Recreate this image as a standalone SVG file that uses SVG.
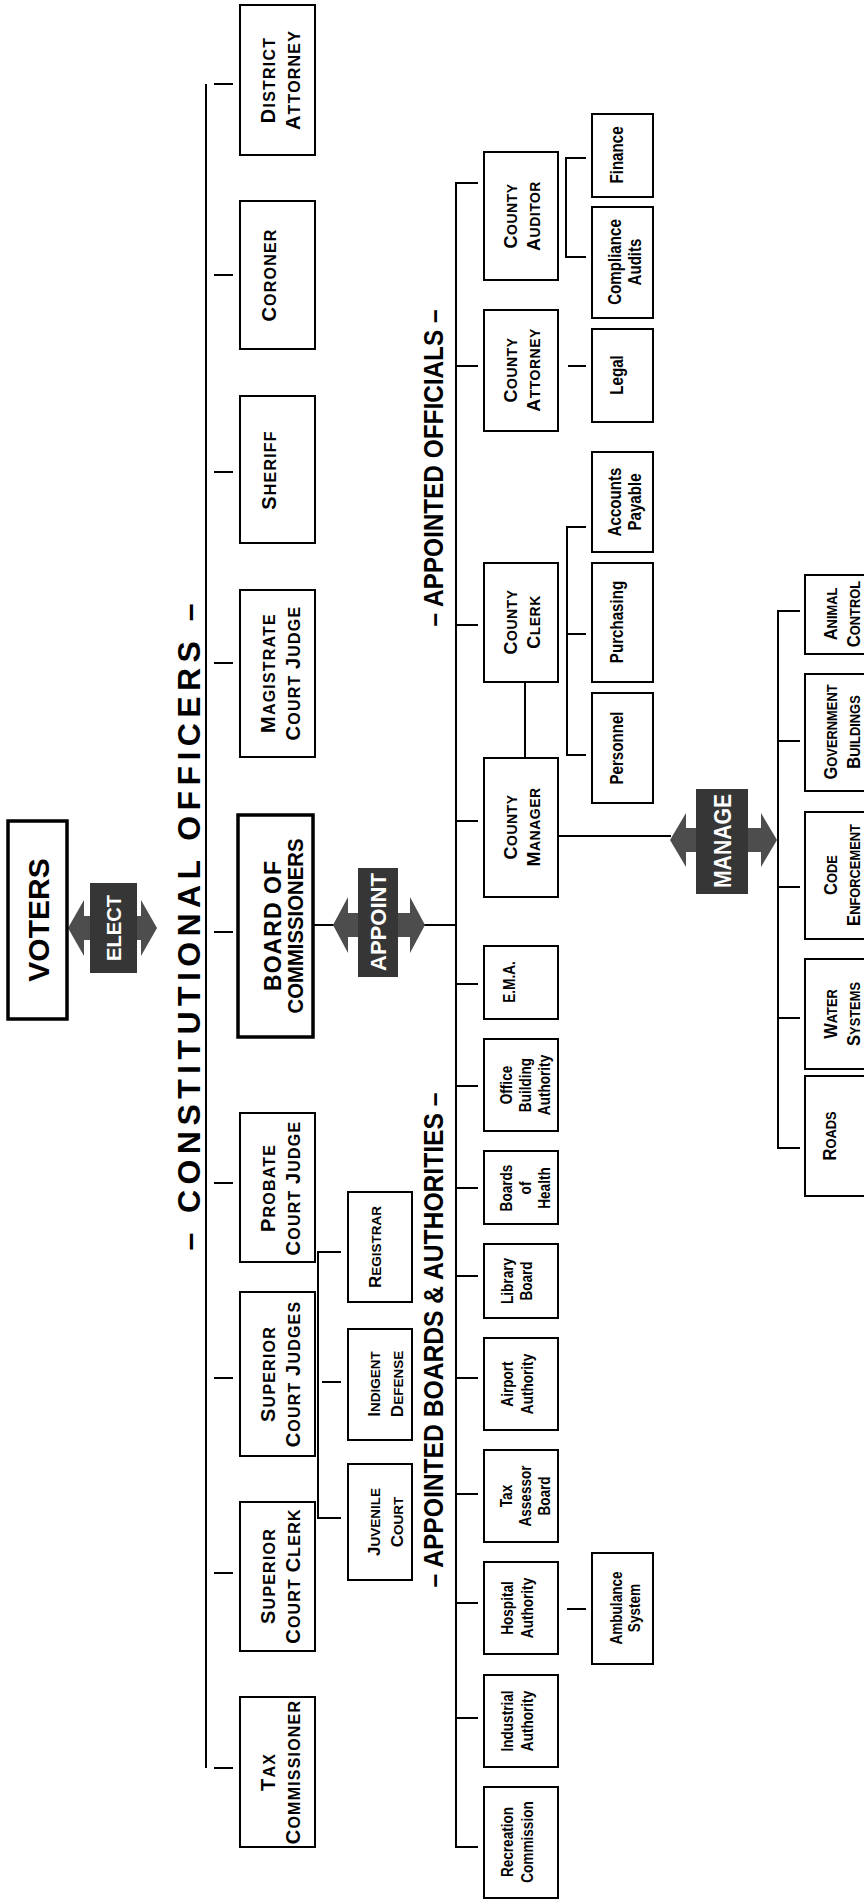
<svg xmlns="http://www.w3.org/2000/svg" width="864" height="1902" viewBox="0 0 864 1902">
<style>
.bx{fill:#fff;stroke:#000;stroke-width:2}
.bt{fill:#fff;stroke:#000;stroke-width:3.5}
.ln{fill:none;stroke:#000;stroke-width:2}
text{font-family:"Liberation Sans",Arial,Helvetica,sans-serif;font-weight:bold;fill:#000;text-anchor:middle}
.c1{font-size:16px;letter-spacing:1.2px}
.c1 .B{font-size:20px}
.c2{font-size:14px;letter-spacing:0.5px}
.c2 .B{font-size:18px}
.c3{font-size:13.5px}
.c3 .B{font-size:17px}
.c4{font-size:14px}
.c4 .B{font-size:18px}
.lb{font-size:17px}
.lc{font-size:18px}
.ttl{font-size:28px}
.big{font-size:32px}
.lab{fill:#fff}
.arw{fill:#4d4d4d}
.tag{fill:#363636}
</style>
<rect width="864" height="1902" fill="#fff"/>

<g id="connectors">
  <path class="ln" d="M206,84 V1768"/>
  <path class="ln" d="M214,84 H233 M214,275 H233 M214,472 H233 M214,663 H233 M214,932 H233 M214,1183 H233 M214,1378 H233 M214,1573 H233 M214,1768 H233"/>
  <path class="ln" d="M478,183 H456 V1847 H478"/>
  <path class="ln" d="M456,366 H478 M456,625 H478 M456,821 H478 M456,984 H478 M456,1086 H478 M456,1188 H478 M456,1276 H478 M456,1378 H478 M456,1494 H478 M456,1603 H478 M456,1718 H478"/>
  <path class="ln" d="M313,925 H334 M424,925 H456"/>
  <path class="ln" d="M341,1252 H318 V1518 H341 M322,1382 H341"/>
  <path class="ln" d="M586,158 H566 V257 H586"/>
  <path class="ln" d="M568,366 H586"/>
  <path class="ln" d="M586,527 H567 V755 H586 M568,634 H586"/>
  <path class="ln" d="M525,682 V758"/>
  <path class="ln" d="M567,1609 H586"/>
  <path class="ln" d="M558,836 H671"/>
  <path class="ln" d="M800,611 H778 V1148 H800 M778,741 H800 M778,887 H800 M778,1018 H800"/>
</g>

<g id="titles">
  <text class="big" textLength="647" lengthAdjust="spacing" transform="translate(200,927) rotate(-90)">– CONSTITUTIONAL OFFICERS –</text>
  <text class="ttl" textLength="317" lengthAdjust="spacingAndGlyphs" transform="translate(443,468) rotate(-90)">– APPOINTED OFFICIALS –</text>
  <text class="ttl" textLength="495" lengthAdjust="spacingAndGlyphs" transform="translate(443,1340) rotate(-90)">– APPOINTED BOARDS &amp; AUTHORITIES –</text>
</g>

<g id="elect">
  <polygon class="arw" points="68,928 84,900 84,916 141,916 141,900 157,928 141,956 141,940 84,940 84,956"/>
  <rect class="tag" x="90" y="883" width="47" height="90"/>
  <text class="lab" style="font-size:20px" textLength="66" lengthAdjust="spacingAndGlyphs" transform="translate(121,928) rotate(-90)">ELECT</text>
</g>
<g id="appoint">
  <polygon class="arw" points="333,925 348,897 348,913 410,913 410,897 425,925 410,953 410,937 348,937 348,953"/>
  <rect class="tag" x="358" y="868" width="40" height="109"/>
  <text class="lab" style="font-size:22px" textLength="98" lengthAdjust="spacingAndGlyphs" transform="translate(386,922) rotate(-90)">APPOINT</text>
</g>
<g id="manage">
  <polygon class="arw" points="670,840 686,813 686,828 761,828 761,813 777,840 761,867 761,852 686,852 686,867"/>
  <rect class="tag" x="696" y="789" width="52" height="105"/>
  <text class="lab" style="font-size:24px" textLength="94" lengthAdjust="spacingAndGlyphs" transform="translate(731,841) rotate(-90)">MANAGE</text>
</g>

<g id="voters"><rect class="bt" x="8" y="821" width="59" height="198"/>
  <text style="font-size:30px" transform="translate(49,920) rotate(-90)">VOTERS</text></g>

<g id="district-attorney"><rect class="bx" x="240" y="5" width="75" height="150"/>
  <text class="c1" transform="translate(275,80) rotate(-90)"><tspan class="B">D</tspan>ISTRICT</text>
  <text class="c1" transform="translate(300,80) rotate(-90)"><tspan class="B">A</tspan>TTORNEY</text></g>
<g id="coroner"><rect class="bx" x="240" y="201" width="75" height="148"/>
  <text class="c1" transform="translate(276,275) rotate(-90)"><tspan class="B">C</tspan>ORONER</text></g>
<g id="sheriff"><rect class="bx" x="240" y="396" width="75" height="147"/>
  <text class="c1" transform="translate(276,470) rotate(-90)"><tspan class="B">S</tspan>HERIFF</text></g>
<g id="magistrate"><rect class="bx" x="240" y="590" width="75" height="167"/>
  <text class="c1" transform="translate(275,673) rotate(-90)"><tspan class="B">M</tspan>AGISTRATE</text>
  <text class="c1" transform="translate(300,673) rotate(-90)"><tspan class="B">C</tspan>OURT <tspan class="B">J</tspan>UDGE</text></g>
<g id="board"><rect class="bt" x="238" y="815" width="75" height="222"/>
  <text style="font-size:23px" textLength="130" lengthAdjust="spacing" transform="translate(281,926) rotate(-90)">BOARD OF</text>
  <text style="font-size:22px" textLength="175" lengthAdjust="spacingAndGlyphs" transform="translate(303,926) rotate(-90)">COMMISSIONERS</text></g>
<g id="probate"><rect class="bx" x="240" y="1113" width="75" height="149"/>
  <text class="c1" transform="translate(275,1188) rotate(-90)"><tspan class="B">P</tspan>ROBATE</text>
  <text class="c1" transform="translate(300,1188) rotate(-90)"><tspan class="B">C</tspan>OURT <tspan class="B">J</tspan>UDGE</text></g>
<g id="superior-judges"><rect class="bx" x="240" y="1292" width="75" height="164"/>
  <text class="c1" transform="translate(275,1374) rotate(-90)"><tspan class="B">S</tspan>UPERIOR</text>
  <text class="c1" transform="translate(300,1374) rotate(-90)"><tspan class="B">C</tspan>OURT <tspan class="B">J</tspan>UDGES</text></g>
<g id="superior-clerk"><rect class="bx" x="240" y="1502" width="75" height="149"/>
  <text class="c1" transform="translate(275,1576) rotate(-90)"><tspan class="B">S</tspan>UPERIOR</text>
  <text class="c1" transform="translate(300,1576) rotate(-90)"><tspan class="B">C</tspan>OURT <tspan class="B">C</tspan>LERK</text></g>
<g id="tax-commissioner"><rect class="bx" x="240" y="1697" width="75" height="150"/>
  <text class="c1" transform="translate(275,1772) rotate(-90)"><tspan class="B">T</tspan>AX</text>
  <text class="c1" transform="translate(300,1772) rotate(-90)"><tspan class="B">C</tspan>OMMISSIONER</text></g>

<g id="registrar"><rect class="bx" x="348" y="1192" width="64" height="110"/>
  <text class="c3" transform="translate(381,1247) rotate(-90)"><tspan class="B">R</tspan>EGISTRAR</text></g>
<g id="indigent-defense"><rect class="bx" x="348" y="1329" width="64" height="111"/>
  <text class="c3" transform="translate(380,1384) rotate(-90)"><tspan class="B">I</tspan>NDIGENT</text>
  <text class="c3" transform="translate(403,1384) rotate(-90)"><tspan class="B">D</tspan>EFENSE</text></g>
<g id="juvenile-court"><rect class="bx" x="348" y="1464" width="64" height="116"/>
  <text class="c3" transform="translate(380,1522) rotate(-90)"><tspan class="B">J</tspan>UVENILE</text>
  <text class="c3" transform="translate(403,1522) rotate(-90)"><tspan class="B">C</tspan>OURT</text></g>

<g id="county-auditor"><rect class="bx" x="484" y="152" width="74" height="128"/>
  <text class="c2" transform="translate(517,216) rotate(-90)"><tspan class="B">C</tspan>OUNTY</text>
  <text class="c2" transform="translate(540,216) rotate(-90)"><tspan class="B">A</tspan>UDITOR</text></g>
<g id="county-attorney"><rect class="bx" x="484" y="310" width="74" height="121"/>
  <text class="c2" transform="translate(517,370) rotate(-90)"><tspan class="B">C</tspan>OUNTY</text>
  <text class="c2" transform="translate(540,370) rotate(-90)"><tspan class="B">A</tspan>TTORNEY</text></g>
<g id="county-clerk"><rect class="bx" x="484" y="563" width="74" height="119"/>
  <text class="c2" transform="translate(517,622) rotate(-90)"><tspan class="B">C</tspan>OUNTY</text>
  <text class="c2" transform="translate(540,622) rotate(-90)"><tspan class="B">C</tspan>LERK</text></g>
<g id="county-manager"><rect class="bx" x="484" y="758" width="74" height="139"/>
  <text class="c2" transform="translate(517,827) rotate(-90)"><tspan class="B">C</tspan>OUNTY</text>
  <text class="c2" transform="translate(540,827) rotate(-90)"><tspan class="B">M</tspan>ANAGER</text></g>

<g id="ema"><rect class="bx" x="484" y="946" width="74" height="73"/>
  <text class="lb" transform="translate(515,982) rotate(-90) scale(0.8,1)">E.M.A.</text></g>
<g id="office-building-authority"><rect class="bx" x="484" y="1039" width="74" height="92"/>
  <text class="lb" transform="translate(512,1085) rotate(-90) scale(0.8,1)">Office</text>
  <text class="lb" transform="translate(531,1085) rotate(-90) scale(0.8,1)">Building</text>
  <text class="lb" transform="translate(550,1085) rotate(-90) scale(0.8,1)">Authority</text></g>
<g id="boards-of-health"><rect class="bx" x="484" y="1151" width="74" height="73"/>
  <text class="lb" transform="translate(512,1188) rotate(-90) scale(0.8,1)">Boards</text>
  <text class="lb" transform="translate(531,1188) rotate(-90) scale(0.8,1)">of</text>
  <text class="lb" transform="translate(550,1188) rotate(-90) scale(0.8,1)">Health</text></g>
<g id="library-board"><rect class="bx" x="484" y="1244" width="74" height="74"/>
  <text class="lb" transform="translate(513,1281) rotate(-90) scale(0.8,1)">Library</text>
  <text class="lb" transform="translate(532,1281) rotate(-90) scale(0.8,1)">Board</text></g>
<g id="airport-authority"><rect class="bx" x="484" y="1338" width="74" height="92"/>
  <text class="lb" transform="translate(513,1384) rotate(-90) scale(0.8,1)">Airport</text>
  <text class="lb" transform="translate(533,1384) rotate(-90) scale(0.8,1)">Authority</text></g>
<g id="tax-assessor-board"><rect class="bx" x="484" y="1450" width="74" height="92"/>
  <text class="lb" transform="translate(512,1496) rotate(-90) scale(0.8,1)">Tax</text>
  <text class="lb" transform="translate(531,1496) rotate(-90) scale(0.8,1)">Assessor</text>
  <text class="lb" transform="translate(550,1496) rotate(-90) scale(0.8,1)">Board</text></g>
<g id="hospital-authority"><rect class="bx" x="484" y="1562" width="74" height="92"/>
  <text class="lb" transform="translate(513,1608) rotate(-90) scale(0.8,1)">Hospital</text>
  <text class="lb" transform="translate(533,1608) rotate(-90) scale(0.8,1)">Authority</text></g>
<g id="industrial-authority"><rect class="bx" x="484" y="1675" width="74" height="92"/>
  <text class="lb" transform="translate(513,1721) rotate(-90) scale(0.8,1)">Industrial</text>
  <text class="lb" transform="translate(533,1721) rotate(-90) scale(0.8,1)">Authority</text></g>
<g id="recreation-commission"><rect class="bx" x="484" y="1787" width="74" height="111"/>
  <text class="lb" transform="translate(513,1842) rotate(-90) scale(0.8,1)">Recreation</text>
  <text class="lb" transform="translate(533,1842) rotate(-90) scale(0.8,1)">Commission</text></g>

<g id="finance"><rect class="bx" x="592" y="114" width="61" height="83"/>
  <text class="lc" transform="translate(623,155) rotate(-90) scale(0.84,1)">Finance</text></g>
<g id="compliance-audits"><rect class="bx" x="592" y="207" width="61" height="111"/>
  <text class="lc" transform="translate(621,262) rotate(-90) scale(0.84,1)">Compliance</text>
  <text class="lc" transform="translate(641,262) rotate(-90) scale(0.84,1)">Audits</text></g>
<g id="legal"><rect class="bx" x="592" y="329" width="61" height="93"/>
  <text class="lc" transform="translate(623,375) rotate(-90) scale(0.84,1)">Legal</text></g>
<g id="accounts-payable"><rect class="bx" x="592" y="452" width="61" height="100"/>
  <text class="lc" transform="translate(621,502) rotate(-90) scale(0.84,1)">Accounts</text>
  <text class="lc" transform="translate(641,502) rotate(-90) scale(0.84,1)">Payable</text></g>
<g id="purchasing"><rect class="bx" x="592" y="563" width="61" height="119"/>
  <text class="lc" transform="translate(623,622) rotate(-90) scale(0.84,1)">Purchasing</text></g>
<g id="personnel"><rect class="bx" x="592" y="693" width="61" height="110"/>
  <text class="lc" transform="translate(623,748) rotate(-90) scale(0.84,1)">Personnel</text></g>
<g id="ambulance-system"><rect class="bx" x="592" y="1553" width="61" height="111"/>
  <text class="lb" transform="translate(622,1608) rotate(-90) scale(0.8,1)">Ambulance</text>
  <text class="lb" transform="translate(640,1608) rotate(-90) scale(0.8,1)">System</text></g>

<g id="animal-control"><rect class="bx" x="805" y="575" width="75" height="79"/>
  <text class="c4" transform="translate(837,614) rotate(-90) scale(0.92,1)"><tspan class="B">A</tspan>NIMAL</text>
  <text class="c4" transform="translate(860,614) rotate(-90) scale(0.92,1)"><tspan class="B">C</tspan>ONTROL</text></g>
<g id="government-buildings"><rect class="bx" x="805" y="674" width="75" height="117"/>
  <text class="c4" transform="translate(837,732) rotate(-90) scale(0.92,1)"><tspan class="B">G</tspan>OVERNMENT</text>
  <text class="c4" transform="translate(860,732) rotate(-90) scale(0.92,1)"><tspan class="B">B</tspan>UILDINGS</text></g>
<g id="code-enforcement"><rect class="bx" x="805" y="812" width="75" height="127"/>
  <text class="c4" transform="translate(837,875) rotate(-90) scale(0.92,1)"><tspan class="B">C</tspan>ODE</text>
  <text class="c4" transform="translate(860,875) rotate(-90) scale(0.92,1)"><tspan class="B">E</tspan>NFORCEMENT</text></g>
<g id="water-systems"><rect class="bx" x="805" y="959" width="75" height="110"/>
  <text class="c4" transform="translate(837,1014) rotate(-90) scale(0.92,1)"><tspan class="B">W</tspan>ATER</text>
  <text class="c4" transform="translate(860,1014) rotate(-90) scale(0.92,1)"><tspan class="B">S</tspan>YSTEMS</text></g>
<g id="roads"><rect class="bx" x="805" y="1076" width="75" height="120"/>
  <text class="c4" transform="translate(836,1136) rotate(-90) scale(0.92,1)"><tspan class="B">R</tspan>OADS</text></g>
</svg>
